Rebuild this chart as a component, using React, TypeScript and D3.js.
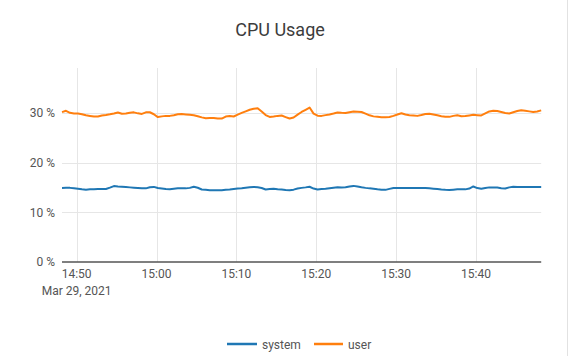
import React from "react";
import * as d3 from "d3";

const TITLE = "CPU Usage";
const SERIES_NAMES = ["system", "user"];
const SERIES_COLORS = ["#1f77b4", "#ff7f0e"];
const START_TIME = new Date(2021, 2, 29, 14, 48, 10);
const SAMPLE_SECONDS = 30;
const DATE_LABEL = "Mar 29, 2021";

const SYSTEM = [
  14.90, 14.94, 14.94, 14.88, 14.78, 14.66, 14.58, 14.64, 14.68, 14.70,
  14.70, 14.70, 14.98, 15.30, 15.22, 15.16, 15.10, 15.04, 14.98, 14.92,
  14.84, 14.84, 15.08, 15.14, 14.90, 14.80, 14.70, 14.68, 14.76, 14.84,
  14.84, 14.84, 14.94, 15.18, 14.96, 14.62, 14.56, 14.48, 14.44, 14.44,
  14.44, 14.54, 14.60, 14.70, 14.80, 14.88, 14.98, 15.06, 15.14, 15.06,
  14.92, 14.62, 14.70, 14.78, 14.68, 14.60, 14.50, 14.48, 14.58, 14.80,
  14.94, 15.04, 15.16, 14.80, 14.60, 14.70, 14.78, 14.88, 14.98, 15.08,
  15.00, 15.06, 15.22, 15.34, 15.20, 15.06, 14.94, 14.84, 14.76, 14.66,
  14.58, 14.54, 14.74, 14.90, 14.90, 14.90, 14.90, 14.90, 14.90, 14.90,
  14.90, 14.90, 14.84, 14.78, 14.70, 14.62, 14.56, 14.52, 14.58, 14.64,
  14.64, 14.64, 14.80, 15.22, 14.90, 14.76, 14.92, 15.04, 15.04, 15.00,
  14.88, 14.80, 15.04, 15.16, 15.14, 15.12, 15.10, 15.10, 15.10, 15.10,
  15.10,
];

const USER = [
  30.20, 30.47, 30.07, 29.94, 29.94, 29.78, 29.56, 29.44, 29.32, 29.33,
  29.54, 29.64, 29.76, 29.94, 30.14, 29.88, 29.92, 30.08, 30.16, 29.96,
  29.84, 30.16, 30.18, 29.78, 29.21, 29.35, 29.45, 29.45, 29.58, 29.78,
  29.82, 29.74, 29.66, 29.56, 29.37, 29.15, 28.99, 29.03, 29.03, 28.93,
  28.91, 29.31, 29.43, 29.33, 29.70, 30.04, 30.36, 30.68, 30.88, 31.00,
  30.34, 29.62, 29.23, 29.33, 29.45, 29.52, 29.21, 28.91, 29.13, 29.70,
  30.24, 30.68, 31.13, 29.90, 29.49, 29.45, 29.60, 29.74, 29.92, 30.12,
  30.06, 30.04, 30.20, 30.34, 30.30, 30.24, 29.90, 29.56, 29.35, 29.27,
  29.19, 29.15, 29.21, 29.45, 29.74, 29.98, 29.72, 29.60, 29.54, 29.45,
  29.62, 29.82, 29.88, 29.72, 29.56, 29.39, 29.27, 29.25, 29.45, 29.56,
  29.39, 29.41, 29.54, 29.66, 29.60, 29.54, 29.94, 30.34, 30.50, 30.42,
  30.22, 30.02, 29.94, 30.18, 30.42, 30.60, 30.48, 30.36, 30.24, 30.34,
  30.56,
];

const Y_TICKS = [0, 10, 20, 30];
const Y_MAX = 39.1;

export default function App() {
  const W = 570;
  const H = 356;
  const left = 62;
  const right = 541.2;
  const top = 68;
  const bottom = 262;

  const times = SYSTEM.map(
    (_, i) => new Date(START_TIME.getTime() + i * SAMPLE_SECONDS * 1000)
  );
  const x = d3
    .scaleTime()
    .domain([times[0], times[times.length - 1]])
    .range([left, right]);
  const y = d3.scaleLinear().domain([0, Y_MAX]).range([bottom, top]);
  const xTicks = x.ticks(d3.timeMinute.every(10) as any);
  const fmt = d3.timeFormat("%H:%M");

  const line = d3
    .line<number>()
    .x((_, i) => x(times[i]))
    .y((d) => y(d));

  const series = [SYSTEM, USER];
  const font = "Roboto, 'Noto Sans', sans-serif";

  const legendItems = [
    { x1: 227, x2: 257, tx: 262 },
    { x1: 314, x2: 343, tx: 348 },
  ];

  return (
    <svg
      width={W}
      height={H}
      style={{ position: "absolute", left: 0, top: 0, display: "block", background: "#fff" }}
      fontFamily={font}
    >
      <rect x={0} y={0} width={W} height={H} fill="#fff" />
      <line x1={567.5} x2={567.5} y1={0} y2={H} stroke="#e2e2e2" strokeWidth={1} />
      <text x={280} y={36} textAnchor="middle" fontSize={18} fill="#3c3c3c">
        {TITLE}
      </text>

      {/* horizontal gridlines */}
      {Y_TICKS.filter((t) => t !== 0).map((t) => (
        <line
          key={"hg" + t}
          x1={left}
          x2={right}
          y1={Math.round(y(t)) + 0.5}
          y2={Math.round(y(t)) + 0.5}
          stroke="#e6e6e6"
          strokeWidth={1}
        />
      ))}
      {/* vertical gridlines */}
      {xTicks.map((t, i) => (
        <line
          key={"vg" + i}
          x1={Math.round(x(t)) + 0.5}
          x2={Math.round(x(t)) + 0.5}
          y1={top}
          y2={bottom}
          stroke="#e6e6e6"
          strokeWidth={1}
        />
      ))}

      {/* y labels */}
      {Y_TICKS.map((t) => (
        <text
          key={"yl" + t}
          x={55}
          y={y(t)}
          dy="0.35em"
          textAnchor="end"
          fontSize={12}
          fill="#555"
        >
          {t + " %"}
        </text>
      ))}

      {/* lines */}
      {series.map((s, k) => (
        <path
          key={"s" + k}
          d={line(s) || ""}
          fill="none"
          stroke={SERIES_COLORS[k]}
          strokeWidth={2}
          strokeLinejoin="round"
        />
      ))}

      {/* x axis line */}
      <line x1={left} x2={right} y1={262} y2={262} stroke="#555" strokeWidth={1.5} />

      {/* x labels */}
      {xTicks.map((t, i) => (
        <text
          key={"xl" + i}
          x={x(t)}
          y={278}
          textAnchor="middle"
          fontSize={12}
          fill="#555"
        >
          {fmt(t)}
        </text>
      ))}
      {xTicks.length > 0 && (
        <text x={x(xTicks[0])} y={294.5} textAnchor="middle" fontSize={12} fill="#555">
          {DATE_LABEL}
        </text>
      )}

      {/* legend */}
      {SERIES_NAMES.map((name, k) => (
        <g key={"lg" + k}>
          <line
            x1={legendItems[k].x1}
            x2={legendItems[k].x2}
            y1={344}
            y2={344}
            stroke={SERIES_COLORS[k]}
            strokeWidth={2.5}
          />
          <text x={legendItems[k].tx} y={348.5} fontSize={12} fill="#555">
            {name}
          </text>
        </g>
      ))}
    </svg>
  );
}
